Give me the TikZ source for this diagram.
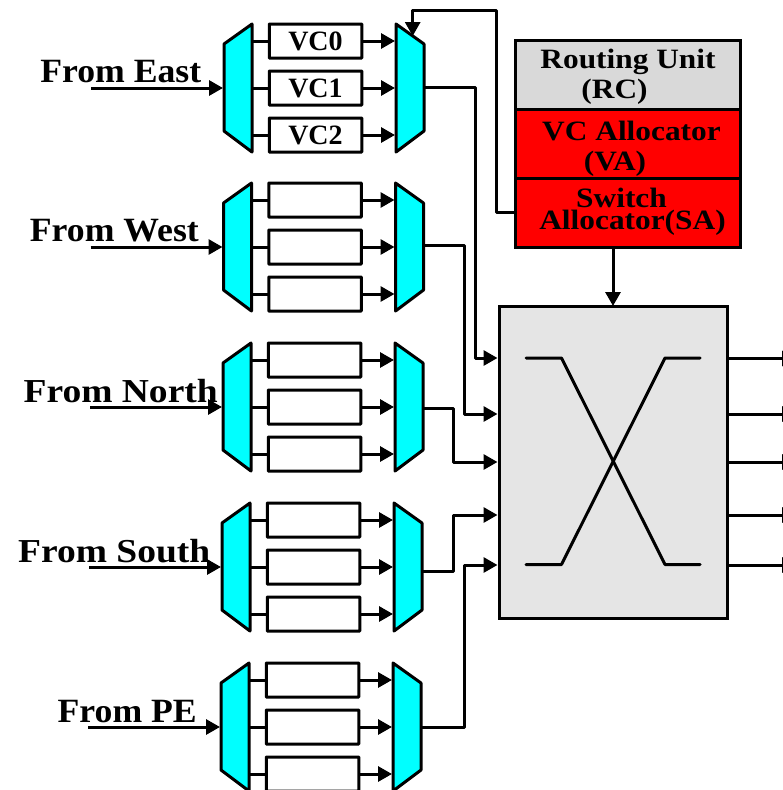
\documentclass[tikz,border=0pt]{standalone}
\usepackage{fontspec}
\setmainfont{Liberation Serif}
\newfontfamily\fontA[FakeStretch=1.05]{Liberation Serif}
\newfontfamily\fontC[FakeStretch=1.12]{Liberation Serif}
\usetikzlibrary{arrows.meta}
\definecolor{muxcyan}{RGB}{0,255,255}
\definecolor{purered}{RGB}{255,0,0}
\definecolor{rcgrey}{RGB}{217,217,217}
\definecolor{xbgrey}{RGB}{229,229,229}
\tikzset{
  wire/.style={line width=3pt,black,line join=round},
  arr/.style={wire,-{Triangle[length=14pt,width=15pt]}},
  muxshape/.style={draw=black,line width=3pt,fill=muxcyan,line join=round},
  vcbox/.style={draw=black,line width=3pt,fill=white,minimum width=92.5pt,minimum height=34pt,inner sep=0pt,outer sep=0pt,rounded corners=0.5pt,font=\fontsize{28}{28}\bfseries\selectfont},
  lab/.style={inner sep=0pt,font=\fontsize{34}{34}\bfseries\selectfont,anchor=base east},
  unit/.style={draw=black,line width=3pt,minimum width=225pt,minimum height=69pt,inner sep=0pt,outer sep=0pt,anchor=north west},
  ulab/.style={inner sep=0pt,anchor=base,font=\fontsize{28}{28}\bfseries\fontC\selectfont},
}
\newcommand{\vcgroup}[6]{% id, x offset, y centre, label, vc text flag, output y
  \begin{scope}[shift={(#2,#3)}]
    \draw[muxshape] (224,-44) -- (252,-64) -- (252,64) -- (224,43) -- cycle;
    \draw[muxshape] (396,-64) -- (424,-44) -- (424,43) -- (396,64) -- cycle;
    \coordinate (#1li) at (223,0);
    \coordinate (#1o) at (424,#6);
    \coordinate (#1in) at (91,0);
    \coordinate (#1r0) at (395,-47); \coordinate (#1r1) at (395,0); \coordinate (#1r2) at (395,47);
    \coordinate (#1l0) at (252,-47); \coordinate (#1l1) at (252,0); \coordinate (#1l2) at (252,47);
    \node[vcbox] (#1b0) at (315.5,-47) {\ifx#50\else VC0\fi};
    \node[vcbox] (#1b1) at (315.5,0) {\ifx#50\else VC1\fi};
    \node[vcbox] (#1b2) at (315.5,47) {\ifx#50\else VC2\fi};
    \draw[wire] (#1l0) -- (#1b0.west); \draw[arr] (#1b0.east) -- (#1r0);
    \draw[wire] (#1l1) -- (#1b1.west); \draw[arr] (#1b1.east) -- (#1r1);
    \draw[wire] (#1l2) -- (#1b2.west); \draw[arr] (#1b2.east) -- (#1r2);
    \draw[arr] (#1in) -- (#1li);
  \end{scope}
  #4
}
\begin{document}
\begin{tikzpicture}[x=1pt,y=-1pt]
\useasboundingbox (0,0) rectangle (782,790);
\vcgroup{e}{0}{88}{\node[lab] (le) at (201.5,82) {\fontA From East};}{1}{-1}
\vcgroup{w}{-0.5}{247}{\node[lab] (lw) at (199,241) {\fontA From West};}{0}{-2}
\vcgroup{n}{-1}{407}{\node[lab] (ln) at (218,402) {\fontC\fontsize{33.5}{33.5}\selectfont From North};}{0}{1}
\vcgroup{s}{-2}{567}{\node[lab] (ls) at (210.5,562) {\fontC\fontsize{33.5}{33.5}\selectfont From South};}{0}{4}
\vcgroup{p}{-3}{727}{\node[lab] (lp) at (197,722.5) {\fontA From PE};}{0}{0}

\node[unit,fill=rcgrey] (rc) at (515,40) {};
\node[unit,fill=purered] (va) at (515,109) {};
\node[unit,fill=purered] (sa) at (515,178) {};
\node[ulab] (rc1) at (628,68) {Routing Unit};
\node[ulab] (rc2) at (614.5,98) {(RC)};
\node[ulab] (va1) at (631.5,140) {VC Allocator};
\node[ulab] (va2) at (615,170) {(VA)};
\node[ulab] (sa1) at (621.5,207) {Switch};
\node[ulab] (sa2) at (632.5,229) {Allocator(SA)};

\node[draw=black,line width=3pt,fill=xbgrey,minimum width=228.5pt,minimum height=312pt,inner sep=0pt,outer sep=0pt,anchor=north west] (xb) at (499,306) {};
\draw[wire,line cap=round] (526,358) -- (561.5,358) -- (665,564.5) -- (700,564.5);
\draw[wire,line cap=round] (526,564.5) -- (561.5,564.5) -- (665,358) -- (700,358);

\coordinate (i0) at (497.5,358); \coordinate (i1) at (497.5,414); \coordinate (i2) at (497.5,462); \coordinate (i3) at (497.5,515); \coordinate (i4) at (497.5,565);
\draw[arr] (eo) -- (475.5,87) -- (475.5,358) -- (i0);
\draw[arr] (wo) -- (464,245) -- (464,414) -- (i1);
\draw[arr] (no) -- (453,408) -- (453,462) -- (i2);
\draw[arr] (so) -- (453,571) -- (453,515) -- (i3);
\draw[arr] (po) -- (464.5,727) -- (464.5,565) -- (i4);

\foreach \y/\n in {358.5/a,414/b,462/c,515/d,565/e}{
  \coordinate (out\n) at (796,\y);
  \draw[arr] (xb.east |- out\n) -- (out\n);
}
\coordinate (fbs) at (sa.west |- 0,212);
\coordinate (fbe) at (412.7,36);
\draw[arr] (fbs) -- (496.5,212) -- (496.5,10.5) -- (412.7,10.5) -- (fbe);
\coordinate (sas) at (sa.south -| 613,0);
\coordinate (sae) at (xb.north -| 613,0);
\draw[arr] (sas) -- (sae);
\end{tikzpicture}
\end{document}
